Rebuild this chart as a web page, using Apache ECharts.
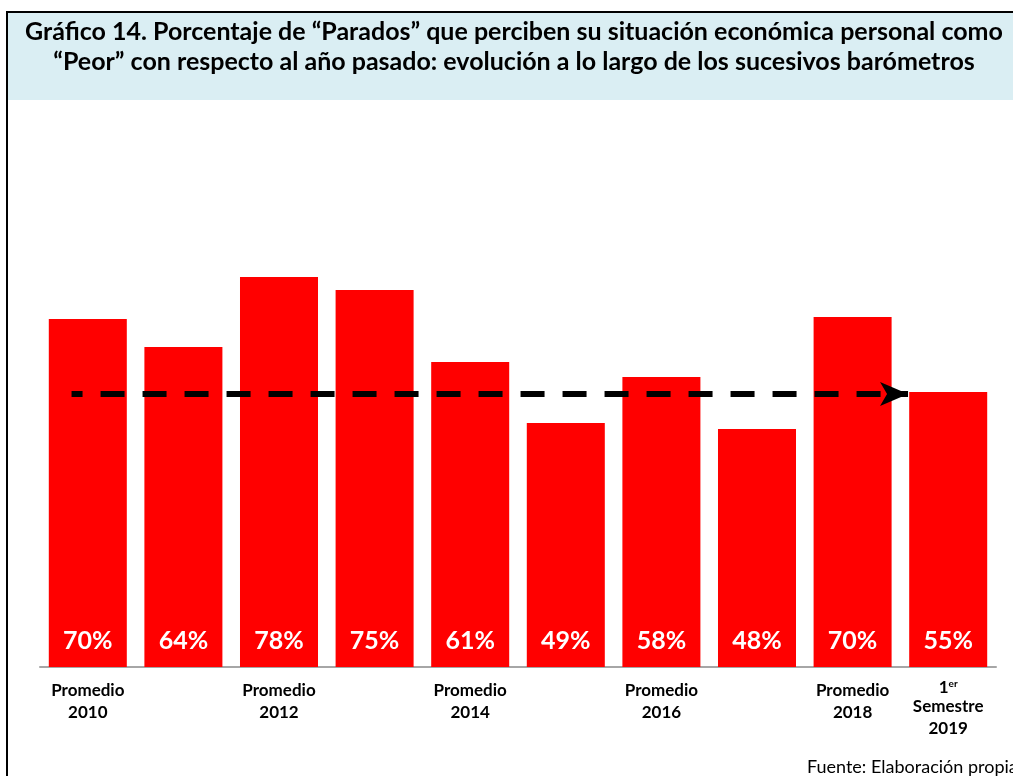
<!DOCTYPE html>
<html>
<head>
<meta charset="utf-8">
<script src="https://cdn.jsdelivr.net/npm/echarts@6/dist/echarts.min.js"></script>
<style>
html,body{margin:0;padding:0;background:#fff;}
#chart{width:1013px;height:776px;}
</style>
</head>
<body>
<div id="chart"></div>
<script>
// ---- data ----
const categories = ['Promedio\n2010', '', 'Promedio\n2012', '', 'Promedio\n2014', '', 'Promedio\n2016', '', 'Promedio\n2018', '1er\nSemestre\n2019'];
const values = [69.6, 64.0, 78.0, 75.4, 61.0, 48.8, 58.0, 47.6, 70.0, 55.0];
const trendValue = 54.6;
const trendFrom = -0.17;   // category position where the dashed arrow starts
const trendTo = 8.58;      // category position where the arrow tip ends
const titleLines = [
  'Gráfico 14. Porcentaje de “Parados” que perciben su situación económica personal como',
  '“Peor” con respecto al año pasado: evolución a lo largo de los sucesivos barómetros'
];
const sourceText = 'Fuente: Elaboración propia';

const chart = echarts.init(document.getElementById('chart'), null, {renderer: 'canvas'});
const option = {
  animation: false,
  backgroundColor: '#ffffff',
  graphic: [
    {type: 'rect', shape: {x: 6, y: 11, width: 1010, height: 89}, style: {fill: '#DAEEF3'}, z: 0},
    {type: 'line', shape: {x1: 6, y1: 12, x2: 1013, y2: 12}, style: {stroke: '#000', lineWidth: 2}},
    {type: 'line', shape: {x1: 7, y1: 11, x2: 7, y2: 776}, style: {stroke: '#000', lineWidth: 2}},
    {type: 'text', x: 514, y: 17, style: {text: titleLines.join('\n'), textAlign: 'center', fill: '#000',
      fontFamily: 'Lato', fontWeight: 'bold', fontSize: 25, lineHeight: 30}},
    {type: 'text', x: 807, y: 758, style: {text: sourceText, fill: '#000', fontFamily: 'Lato', fontSize: 18}}
  ],
  grid: {left: 40, right: 17, top: 167, bottom: 109},
  xAxis: [
    {
      type: 'category', data: categories,
      axisLine: {lineStyle: {color: '#A6A6A6', width: 2}},
      axisTick: {show: false},
      axisLabel: {
        interval: 0, margin: 12, color: '#000', fontFamily: 'Lato', fontWeight: 'bold', fontSize: 17, lineHeight: 22.5,
        formatter: function (v) {
          if (v.indexOf('1er') === 0) {
            const parts = v.split('\n');
            return '{n|1}{sup|er}\n{t|' + parts[1] + '}\n{t|' + parts[2] + '}';
          }
          return v;
        },
        rich: {
          n: {fontFamily: 'Lato', fontWeight: 'bold', fontSize: 17, lineHeight: 17, color: '#000'},
          sup: {fontFamily: 'Lato', fontWeight: 'bold', fontSize: 10, lineHeight: 17, color: '#000', verticalAlign: 'top', padding: [0, 0, 8, 0]},
          t: {fontFamily: 'Lato', fontWeight: 'bold', fontSize: 17, lineHeight: 21.5, color: '#000'}
        }
      }
    },
    {type: 'value', min: -0.5, max: 9.5, show: false}
  ],
  yAxis: {type: 'value', min: 0, max: 100, show: false, splitLine: {show: false}},
  series: [
    {
      type: 'bar', data: values, barCategoryGap: '18.4%',
      itemStyle: {color: '#FF0000'},
      label: {
        show: true, position: 'insideBottom', distance: 14,
        formatter: function (p) { return Math.round(p.value) + '%'; },
        color: '#fff', fontFamily: 'Lato', fontWeight: 'bold', fontSize: 25
      }
    },
    {
      type: 'line', xAxisIndex: 1, yAxisIndex: 0,
      data: [[trendFrom, trendValue], [trendTo, trendValue]],
      symbol: 'none', lineStyle: {opacity: 0}, z: 5,
      markLine: {
        silent: true, symbol: ['none', 'arrow'], symbolSize: [18, 28],
        label: {show: false},
        lineStyle: {color: '#000', width: 6, type: [24, 18], dashOffset: 13},
        data: [[{coord: [trendFrom, trendValue]}, {coord: [trendTo, trendValue]}]]
      }
    }
  ]
};
chart.setOption(option);
</script>
</body>
</html>
